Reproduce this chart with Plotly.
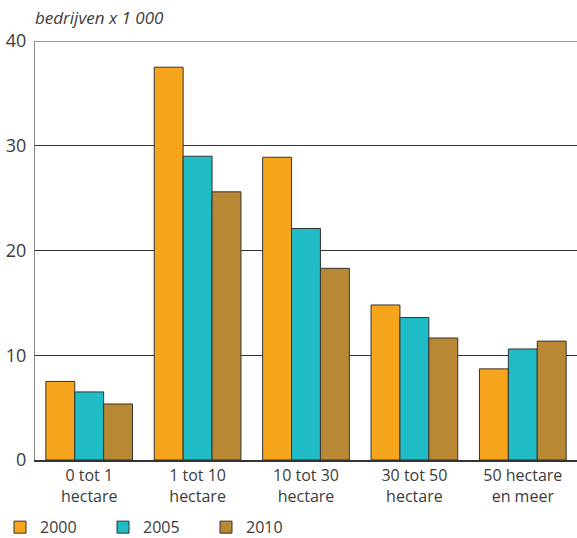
import plotly.graph_objects as go

categories = ["0 tot 1<br>hectare", "1 tot 10<br>hectare", "10 tot 30<br>hectare", "30 tot 50<br>hectare", "50 hectare<br>en meer"]
years = ["2000", "2005", "2010"]
v2000 = [7.5, 37.5, 28.9, 14.8, 8.7]
v2005 = [6.5, 29.0, 22.1, 13.6, 10.6]
v2010 = [5.35, 25.6, 18.3, 11.65, 11.35]
colors = ["#f7a51c", "#1fbcc6", "#b98834"]
y_ticks = [0, 10, 20, 30, 40]

fig = go.Figure()
for name, vals, c in zip(years, [v2000, v2005, v2010], colors):
    fig.add_trace(go.Bar(x=categories, y=vals, name=name, marker=dict(color=c, line=dict(color="#333333", width=1))))

fig.update_layout(
    width=577, height=538,
    margin=dict(l=35, r=0, t=41, b=78),
    paper_bgcolor="white", plot_bgcolor="white",
    barmode="group", bargap=0.2, bargroupgap=0,
    font=dict(family="Open Sans", size=16, color="#3c3c3c"),
    showlegend=True,
    legend=dict(orientation="h", xref="container", yref="container", x=-0.021, y=0.02,
                xanchor="left", yanchor="middle",
                font=dict(size=16), entrywidth=58, entrywidthmode="pixels", itemwidth=30),
    annotations=[dict(text="<i>bedrijven x 1 000</i>", xref="paper", yref="paper", x=-0.003, y=1.057,
                      xanchor="left", yanchor="middle", showarrow=False, font=dict(size=17, color="#3c3c3c"))],
)
fig.update_yaxes(range=[0, 40], tickvals=y_ticks, showgrid=True, gridcolor="#333333", gridwidth=1,
                 showline=True, linecolor="#888888", linewidth=1, zeroline=False, ticks="",
                 tickfont=dict(size=18), automargin=False, ticklabelstandoff=4)
fig.update_xaxes(showline=True, linecolor="#333333", linewidth=1.5, ticks="", tickfont=dict(size=16),
                 automargin=False)
fig.add_shape(type="line", xref="paper", yref="y", x0=0, x1=1, y0=40, y1=40, line=dict(color="#333333", width=1))

fig.write_html("out.html", config={"displayModeBar": False},
               post_script="document.body.style.margin='0';document.body.style.overflow='hidden';")
